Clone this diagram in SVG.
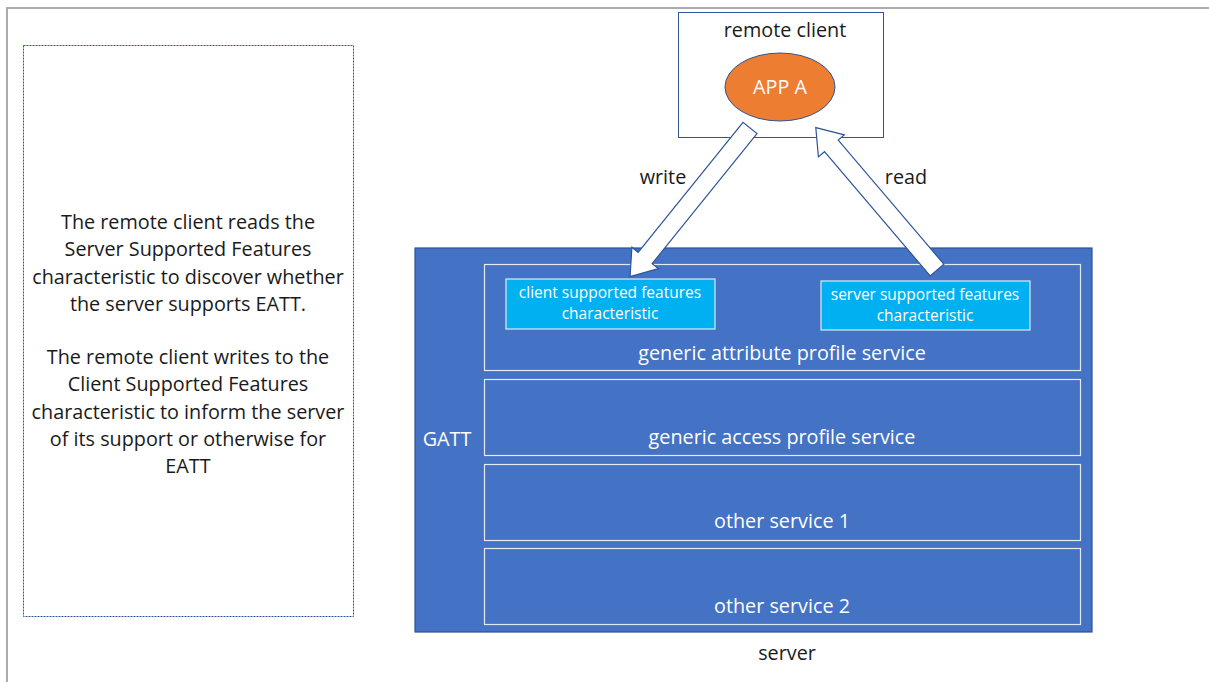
<svg xmlns="http://www.w3.org/2000/svg" width="1209" height="682" viewBox="0 0 1209 682">
<style>
text{font-family:"Open Sans","Liberation Sans",Arial,sans-serif}
.dk{fill:#1a1a1a;font-size:19.8px;text-anchor:middle}
.wt{fill:#ffffff;font-size:19.8px;text-anchor:middle}
.sm{fill:#ffffff;font-size:15.5px;text-anchor:middle}
.row{fill:none;stroke:#ffffff;stroke-opacity:0.85;stroke-width:1.2}
.chr{fill:#00B0F0;stroke:#DDEBF7;stroke-width:1.2}
.arr{fill:#ffffff;stroke:#2F5597;stroke-width:1.2;stroke-linejoin:miter}
</style>
<rect width="1209" height="682" fill="#ffffff"/>
<path d="M7,682 V8 H1209" fill="none" stroke="#ABABAB" stroke-width="2"/>
<g id="note">
<rect x="23.5" y="45.5" width="330" height="571" fill="#ffffff" stroke="#2F5597" stroke-width="1" stroke-dasharray="2,1"/>
<text class="dk" x="188" y="229">The remote client reads the</text>
<text class="dk" x="188" y="256">Server Supported Features</text>
<text class="dk" x="188" y="284">characteristic to discover whether</text>
<text class="dk" x="188" y="311">the server supports EATT.</text>
<text class="dk" x="188" y="364">The remote client writes to the</text>
<text class="dk" x="188" y="391">Client Supported Features</text>
<text class="dk" x="188" y="419">characteristic to inform the server</text>
<text class="dk" x="188" y="446">of its support or otherwise for</text>
<text class="dk" x="188" y="473">EATT</text>
</g>
<g id="remote-client">
<rect x="678.5" y="12.5" width="205" height="125" fill="#ffffff" stroke="#2F5597" stroke-width="1"/>
<text class="dk" x="785" y="37">remote client</text>
</g>
<g id="app-a">
<ellipse cx="780" cy="87" rx="55" ry="34" fill="#ED7D31" stroke="#2F5597" stroke-width="1"/>
<text class="wt" x="780" y="94">APP A</text>
</g>
<g id="server">
<rect x="415" y="248" width="677" height="384" fill="#4472C4" stroke="#2F528F" stroke-width="1.2"/>
<text class="wt" x="447" y="446">GATT</text>
<text class="dk" x="787" y="660">server</text>
</g>
<g id="gatt-service">
<rect class="row" x="484.5" y="264.5" width="596" height="106"/>
<text class="wt" x="782" y="360">generic attribute profile service</text>
</g>
<g id="gap-service">
<rect class="row" x="484.5" y="379.5" width="596" height="76"/>
<text class="wt" x="782" y="444">generic access profile service</text>
</g>
<g id="other-service-1">
<rect class="row" x="484.5" y="464.5" width="596" height="76"/>
<text class="wt" x="782" y="528">other service 1</text>
</g>
<g id="other-service-2">
<rect class="row" x="484.5" y="548.5" width="596" height="76"/>
<text class="wt" x="782" y="613">other service 2</text>
</g>
<g id="client-char">
<rect class="chr" x="506" y="279" width="209" height="50"/>
<text class="sm" x="610" y="298">client supported features</text>
<text class="sm" x="610" y="319">characteristic</text>
</g>
<g id="server-char">
<rect class="chr" x="821" y="281" width="209" height="49"/>
<text class="sm" x="925" y="300">server supported features</text>
<text class="sm" x="925" y="321">characteristic</text>
</g>
<g id="connectors">
<path class="arr" transform="translate(750,128) rotate(128.9)" d="M0,-9 H167 V-17 L191,0 L167,17 V9 H0 Z"/>
<path class="arr" transform="translate(937,270) rotate(-130.4)" d="M0,-9 H163 V-17 L187,0 L163,17 V9 H0 Z"/>
<text class="dk" x="663" y="184">write</text>
<text class="dk" x="906" y="184">read</text>
</g>
</svg>
